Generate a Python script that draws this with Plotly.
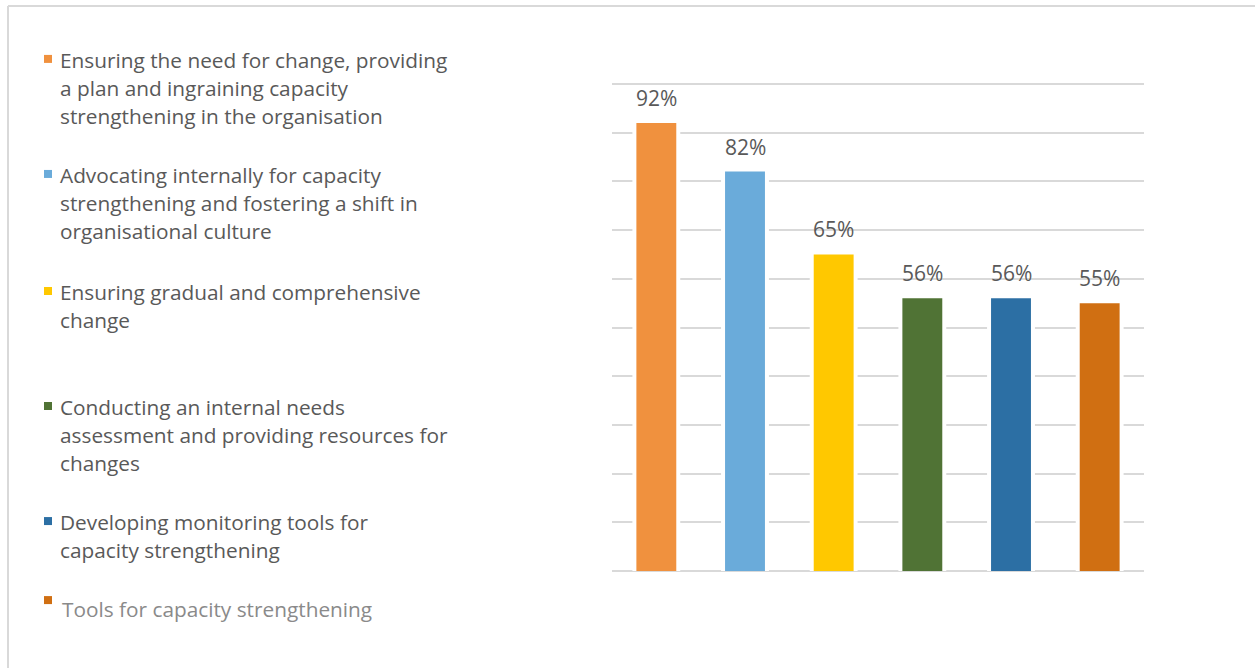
import plotly.graph_objects as go

# ---- data ----
categories = [
    "Ensuring the need for change, providing<br>a plan and ingraining capacity<br>strengthening in the organisation",
    "Advocating internally for capacity<br>strengthening and fostering a shift in<br>organisational culture",
    "Ensuring gradual and comprehensive<br>change",
    "Conducting an internal needs<br>assessment and providing resources for<br>changes",
    "Developing monitoring tools for<br>capacity strengthening",
    "Tools for capacity strengthening",
]
values = [0.92, 0.82, 0.65, 0.56, 0.56, 0.55]
colors = ["#F0913E", "#6AABDA", "#FFC800", "#507335", "#2C6FA4", "#D06F12"]

# ---- layout (pixels) ----
W, H = 1255, 668
PL, PR = 612, 1144
Y0_PX, Y1_PX = 571, 84          # pixel rows of 0% and 100%
PAD = 0.006                      # small range padding so edge gridlines draw
unit = (Y0_PX - Y1_PX)           # px per 1.0
PT = Y1_PX - PAD * unit
PB = Y0_PX + PAD * unit
pw, ph = PR - PL, PB - PT


def px_x(x):
    return (x - PL) / pw


def px_y(y):
    return (PB - y) / ph


legend_top = [60, 175, 292, 407, 522, 609]
legend_sq_y = [59, 174, 291, 406, 521, 600]
legend_text_x = [58, 58, 58, 58, 58, 60]
legend_text_color = ["#595959"] * 5 + ["#8a8a8a"]
line_gap = 28

xs = list(range(len(values)))

fig = go.Figure()
# white halo behind bars (breaks the gridlines beside each bar)
fig.add_trace(go.Bar(
    x=xs, y=values, marker=dict(color="white", line=dict(width=0)),
    width=0.54, showlegend=False, hoverinfo="skip",
))
fig.add_trace(go.Bar(
    x=xs, y=values, marker=dict(color=colors, line=dict(width=0)),
    width=0.45, showlegend=False, hoverinfo="skip",
))

annotations = []
for i, v in enumerate(values):
    annotations.append(dict(
        x=i, y=v, xref="x", yref="y", text=f"{round(v*100)}%",
        showarrow=False, yanchor="bottom", yshift=9,
        font=dict(family="Open Sans", size=21, color="#595959"),
    ))

shapes = []
for i, cat in enumerate(categories):
    for k, line in enumerate(cat.split("<br>")):
        annotations.append(dict(
            x=px_x(legend_text_x[i]), y=px_y(legend_top[i] + k * line_gap),
            xref="paper", yref="paper", text=line, showarrow=False,
            xanchor="left", yanchor="middle",
            font=dict(family="Open Sans", size=20.8, color=legend_text_color[i]),
        ))
    cy = legend_sq_y[i]
    shapes.append(dict(
        type="rect", xref="paper", yref="paper",
        x0=px_x(44), x1=px_x(52), y0=px_y(cy + 4), y1=px_y(cy - 4),
        fillcolor=colors[i], line=dict(width=0),
    ))

# outer frame (top and left edges)
shapes.append(dict(type="line", xref="paper", yref="paper",
                   x0=px_x(8), x1=px_x(W), y0=px_y(6), y1=px_y(6),
                   line=dict(color="#d9d9d9", width=2)))
shapes.append(dict(type="line", xref="paper", yref="paper",
                   x0=px_x(8), x1=px_x(8), y0=px_y(6), y1=px_y(H),
                   line=dict(color="#d9d9d9", width=2)))

fig.update_layout(
    width=W, height=H,
    margin=dict(l=PL, r=W - PR, t=PT, b=H - PB, pad=0),
    paper_bgcolor="white", plot_bgcolor="white",
    barmode="overlay",
    xaxis=dict(range=[-0.5, len(values) - 0.5], showticklabels=False,
               showgrid=False, zeroline=False, showline=False, ticks=""),
    yaxis=dict(range=[-PAD, 1 + PAD], tick0=0, dtick=0.1, showticklabels=False,
               showgrid=True, gridcolor="#d9d9d9", gridwidth=2,
               zeroline=False, showline=False, ticks=""),
    annotations=annotations, shapes=shapes,
    font=dict(family="Open Sans"),
)

fig.write_html("out.html", config={"displayModeBar": False},
               post_script="document.body.style.margin='0';")
